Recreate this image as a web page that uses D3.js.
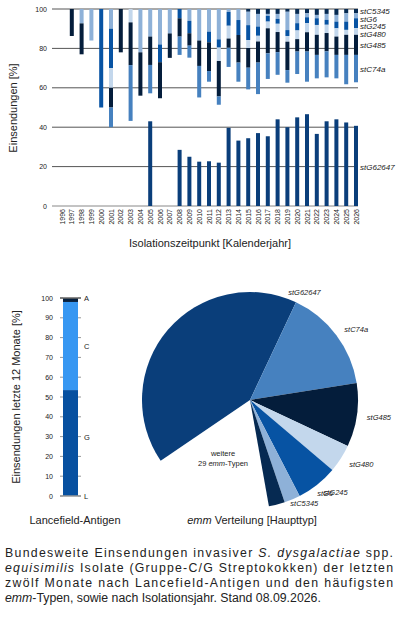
<!DOCTYPE html>
<html><head><meta charset="utf-8">
<script src="https://cdn.jsdelivr.net/npm/d3@7"></script>
<style>
body{margin:0;background:#fff;font-family:"Liberation Sans",Arial,sans-serif;}
svg text{fill:#222;}
</style></head>
<body><svg id="c" width="400" height="630"></svg>
<script>
// years of isolation
var years = d3.range(1996, 2027).map(String);
// stacked from top (100 %) downward, per year in %
var stC5345 = [0,0,0,0,0,0,0,0,0,0,0,0,0,0,0,0,0,0,0,1.4,2.5,2.5,2.5,1.4,2.5,2.2,3,2.5,3,2.2,2.2];
var stG6    = [0,0,7.3,16,0,10,0,0,22,14,18,12.4,0,6,16,11.5,15.4,1.5,5.6,6.8,6.4,1,2.5,9.3,4.7,2,1.7,3,3.4,4.2,2.5];
var stG245  = [0,0,0,0,50,20,0,0,0,0,9,0,4.7,6.3,0,5.4,4.2,7,7.6,7.6,4.7,2.9,2.5,3,3.7,3,3.4,2.5,3.4,4.2,5];
var stG480  = [0,0,0,0,0,10,0,6.8,0,0,0,0,0,0,0,0,6.8,6.5,0,4,2.9,3.4,4.2,2.9,4.4,4.6,5,4.2,4.2,2.5,3.4];
var stG485  = [0,13.7,15.7,0,0,10,22,21.7,22,14.4,18.3,12.4,9.3,6.3,12.9,14.6,18,4.7,14,10,10.7,12.7,10.2,14.4,6.3,9.8,10.2,9.3,9.3,10.2,10.2];
var stC74a  = [0,0,0,0,0,10,0,28.3,0,14.4,0,0,9.3,6.1,16,5.4,4.2,9.7,9.7,11,16,13,11.5,6.4,11.4,15.3,11.9,13.2,11.9,14.9,13.9];
// from 0 upward
var stG62647 = [0,0,0,0,0,0,0,0,0,43,0,0,28.5,25,22.5,22.7,22,39.7,33.2,34.4,37,35.4,44,40,45,46.6,36.6,43,44,42.4,40.7];
var yTicks = [0,20,40,60,80,100];

// Lancefield antigen, last 12 months
var lfGroups = ["G","C","A"];
var lfValues = [53.5,44.5,2];
var lfLabels = ["L","G","C","A"];
var lfLabelAt = [0,30,76,100];
var lfTicks = d3.range(0,101,10);

// emm distribution (pie)
var emmTypes = ["stG62647","stC74a","stG485","stG480","stG245","stG6","stC5345","weitere"];
var emmShares = [41.5,15.5,9.5,4.2,6.2,2.4,2.4,18.3];

var colors = {
  stC5345:"#062a52", stG6:"#8eb1d8", stG245:"#0753a3", stG480:"#c3d7ec",
  stG485:"#041d3b", stC74a:"#4681bf", stG62647:"#0a3e7a", weitere:"none"
};
var topOrder = ["stC5345","stG6","stG245","stG480","stG485","stC74a"];
var topData = {stC5345:stC5345, stG6:stG6, stG245:stG245, stG480:stG480, stG485:stG485, stC74a:stC74a};

var svg = d3.select("#c");

// ---------- top bar chart ----------
var x = d3.scalePoint().domain(years).range([62,356]);
var y = d3.scaleLinear().domain([0,100]).range([206,9]);
var g1 = svg.append("g");
g1.selectAll(".grid").data(yTicks).enter().append("line")
  .attr("x1",52).attr("x2",358)
  .attr("y1",function(d){return y(d);}).attr("y2",function(d){return y(d);})
  .attr("stroke",function(d){return d===0?"#888":"#555";}).attr("stroke-width",1);
g1.selectAll(".yt").data(yTicks).enter().append("text")
  .attr("x",47).attr("y",function(d){return y(d)+2.5;})
  .attr("text-anchor","end").attr("font-size",7).text(function(d){return d;});
g1.selectAll(".xt").data(years).enter().append("text")
  .attr("transform",function(d){return "translate("+(x(d)+2.5)+",209) rotate(-90)";})
  .attr("text-anchor","end").attr("font-size",7).text(function(d){return d;});

var bw = 4;
years.forEach(function(yr,i){
  var top = 100;
  topOrder.forEach(function(k){
    var v = topData[k][i];
    if (v > 0) {
      g1.append("rect").attr("x",x(yr)-bw/2).attr("width",bw)
        .attr("y",y(top)).attr("height",y(top-v)-y(top)).attr("fill",colors[k]);
    }
    top -= v;
  });
  if (stG62647[i] > 0) {
    g1.append("rect").attr("x",x(yr)-bw/2).attr("width",bw)
      .attr("y",y(stG62647[i])).attr("height",y(0)-y(stG62647[i])).attr("fill",colors.stG62647);
  }
});

// series labels at right, based on last bar, kept apart
var last = years.length-1, acc = 100, lab = [];
topOrder.forEach(function(k){
  lab.push({k:k, py:y(acc - topData[k][last]/2)});
  acc -= topData[k][last];
});
for (var j=1;j<lab.length;j++){ if (lab[j].py < lab[j-1].py+7.5) lab[j].py = lab[j-1].py+7.5; }
lab.push({k:"stG62647", py:y(20)});
g1.selectAll(".sl").data(lab).enter().append("text")
  .attr("x",360).attr("y",function(d){return d.py+3;})
  .attr("font-size",8).attr("font-style","italic").text(function(d){return d.k;});

svg.append("text").attr("transform","translate(17,108) rotate(-90)")
  .attr("text-anchor","middle").attr("font-size",11).text("Einsendungen [%]");
svg.append("text").attr("x",210).attr("y",247)
  .attr("text-anchor","middle").attr("font-size",11).text("Isolationszeitpunkt [Kalenderjahr]");

// ---------- Lancefield bar ----------
var y2 = d3.scaleLinear().domain([0,100]).range([496,298]);
var lfColors = {G:"#0750a0", C:"#3797f2", A:"#06203f"};
var g2 = svg.append("g");
var base = 0;
lfGroups.forEach(function(gk,i){
  g2.append("rect").attr("x",63).attr("width",15)
    .attr("y",y2(base+lfValues[i])).attr("height",y2(base)-y2(base+lfValues[i]))
    .attr("fill",lfColors[gk]);
  base += lfValues[i];
});
g2.selectAll(".lt").data(lfTicks).enter().append("g").each(function(d){
  var s = d3.select(this);
  s.append("line").attr("x1",60).attr("x2",63).attr("y1",y2(d)).attr("y2",y2(d)).attr("stroke","#999");
  s.append("line").attr("x1",78).attr("x2",81).attr("y1",y2(d)).attr("y2",y2(d)).attr("stroke","#999");
  s.append("text").attr("x",53).attr("y",y2(d)+2.5).attr("text-anchor","end").attr("font-size",7).text(d);
});
g2.append("line").attr("x1",60).attr("x2",81).attr("y1",y2(0)).attr("y2",y2(0)).attr("stroke","#999").attr("stroke-width",1.5);
g2.append("line").attr("x1",60).attr("x2",81).attr("y1",y2(100)).attr("y2",y2(100)).attr("stroke","#666").attr("stroke-width",1.5);
g2.selectAll(".ll").data(lfLabels).enter().append("text")
  .attr("x",84).attr("y",function(d,i){return y2(lfLabelAt[i])+3;})
  .attr("font-size",7.5).text(function(d){return d;});
svg.append("text").attr("transform","translate(20,397) rotate(-90)")
  .attr("text-anchor","middle").attr("font-size",11).text("Einsendungen  letzte 12 Monate [%]");
svg.append("text").attr("x",75).attr("y",524)
  .attr("text-anchor","middle").attr("font-size",11).text("Lancefield-Antigen");

// ---------- pie ----------
var cx = 250, cy = 400, r = 108;
var pie = d3.pie().sort(null).value(function(d){return d.v;})
  .startAngle(-124.2*Math.PI/180).endAngle(-124.2*Math.PI/180+2*Math.PI);
var arcs = pie(emmTypes.map(function(k,i){return {k:k, v:emmShares[i]};}));
var arc = d3.arc().innerRadius(0).outerRadius(r);
var lblArc = d3.arc().innerRadius(r+10).outerRadius(r+10);
var nudge = {stG62647:[-12,2], stG6:[21,-13], stC5345:[11,-8]};
var g3 = svg.append("g").attr("transform","translate("+cx+","+cy+")");
g3.selectAll("path").data(arcs).enter().append("path")
  .attr("d",arc).attr("fill",function(d){return colors[d.data.k];});
g3.selectAll(".pl").data(arcs.filter(function(d){return d.data.k!=="weitere";})).enter().append("text")
  .attr("transform",function(d){
    var c;
    if (d.data.k==="stG62647") {
      c = [Math.sin(d.endAngle)*(r+10), -Math.cos(d.endAngle)*(r+10)];
    } else {
      c = lblArc.centroid(d);
    }
    var n = nudge[d.data.k] || [0,3];
    return "translate("+(c[0]+n[0])+","+(c[1]+n[1])+")";
  })
  .attr("font-size",7.5).attr("font-style","italic").text(function(d){return d.data.k;});
g3.append("text").attr("x",-27).attr("y",56).attr("text-anchor","middle").attr("font-size",7.5).text("weitere");
var t2 = g3.append("text").attr("x",-27).attr("y",66).attr("text-anchor","middle").attr("font-size",7.5);
t2.append("tspan").text("29 ");
t2.append("tspan").attr("font-style","italic").text("emm");
t2.append("tspan").text("-Typen");
var tt = svg.append("text").attr("x",252).attr("y",524).attr("text-anchor","middle").attr("font-size",11);
tt.append("tspan").attr("font-style","italic").text("emm");
tt.append("tspan").text(" Verteilung  [Haupttyp]");

// ---------- caption ----------
var capLines = [
  [["Bundesweite Einsendungen invasiver ",0],["S. dysgalactiae",1],[" spp.",0]],
  [["equisimilis",1],[" Isolate (Gruppe-C/G Streptokokken) der letzten",0]],
  [["zwölf Monate nach Lancefield-Antigen und den häufigsten",0]],
  [["emm",1],["-Typen, sowie nach Isolationsjahr. Stand 08.09.2026.",0]]
];
capLines.forEach(function(line,i){
  var t = svg.append("text").attr("x",5).attr("y",557+i*15).attr("font-size",12.3);
  if (i<3) t.attr("textLength",388).attr("lengthAdjust","spacing");
  line.forEach(function(p){
    t.append("tspan").attr("font-style",p[1]?"italic":"normal").text(p[0]);
  });
});
</script></body></html>
